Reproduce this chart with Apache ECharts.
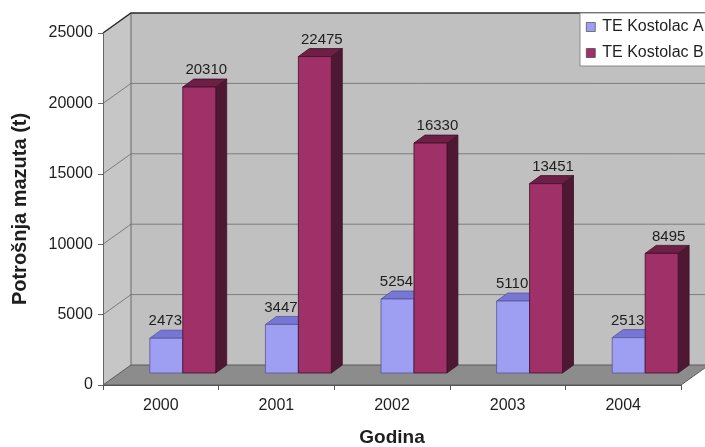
<!DOCTYPE html>
<html>
<head>
<meta charset="utf-8">
<script src="https://cdn.jsdelivr.net/npm/echarts@6/dist/echarts.min.js"></script>
<style>
  html, body { margin: 0; padding: 0; background: #ffffff; }
  #chart { width: 705px; height: 447px; }
</style>
</head>
<body>
<div id="chart"></div>
<script>
// Fuel oil consumption per year for the two Kostolac power plants
const years = ['2000', '2001', '2002', '2003', '2004'];
const kostolacA = [2473, 3447, 5254, 5110, 2513];
const kostolacB = [20310, 22475, 16330, 13451, 8495];
const yMax = 25000;
const yStep = 5000;

const FONT = "'Liberation Sans', Arial, sans-serif";

// Oblique projection: wall depth and bar depth offsets (px)
const WALL_DX = 28, WALL_DY = -20;
const FLOOR_DY = -12;
const BAR_DX = 11, BAR_DY = -8;
const BAR_W = 0.285;      // bar width as a fraction of the category band
const BAR_START = -0.095; // left edge of the first bar relative to band centre

function renderWalls(params, api) {
  const cs = params.coordSys;
  const left = cs.x, right = cs.x + cs.width;
  const top = cs.y, bottom = cs.y + cs.height;
  const children = [];
  // left side wall
  children.push({
    type: 'polygon',
    shape: { points: [[left, bottom], [left, top], [left + WALL_DX, top + WALL_DY], [left + WALL_DX, bottom + WALL_DY]] },
    style: { fill: '#c6c6c6' }
  });
  // back wall
  children.push({
    type: 'rect',
    shape: { x: left + WALL_DX, y: top + WALL_DY, width: cs.width, height: cs.height },
    style: { fill: '#c0c0c0' }
  });
  // gridlines on back and side walls
  for (let v = yStep; v < yMax; v += yStep) {
    const y = api.coord([0, v])[1];
    children.push({
      type: 'polyline',
      shape: { points: [[left, y], [left + WALL_DX, y + WALL_DY], [right + WALL_DX, y + WALL_DY]] },
      style: { stroke: '#7c7c7c', lineWidth: 1, fill: null }
    });
  }
  // back wall left edge
  children.push({
    type: 'line',
    shape: { x1: left + WALL_DX, y1: top + WALL_DY, x2: left + WALL_DX, y2: bottom + WALL_DY },
    style: { stroke: '#6a6a6a', lineWidth: 1 }
  });
  // top edge of the walls
  children.push({
    type: 'polyline',
    shape: { points: [[left, top], [left + WALL_DX, top + WALL_DY], [right + WALL_DX, top + WALL_DY]] },
    style: { stroke: '#2a2a2a', lineWidth: 1.5, fill: null }
  });
  // floor
  children.push({
    type: 'polygon',
    shape: { points: [[left, bottom], [right, bottom], [right + WALL_DX, bottom + WALL_DY], [left + WALL_DX, bottom + WALL_DY]] },
    style: { fill: '#8c8c8c', stroke: '#5a5a5a', lineWidth: 1 }
  });
  return { type: 'group', children: children };
}

function makeBarRenderer(slot, colors, labelShift) {
  return function (params, api) {
    const i = api.value(0);
    const v = api.value(1);
    const band = api.size([1, 0])[0];
    const base = api.coord([i, 0]);
    const topPt = api.coord([i, v]);
    const w = band * BAR_W;
    const x0 = base[0] + band * BAR_START + slot * w;
    const x1 = x0 + w;
    const yb = base[1] + FLOOR_DY;
    const yt = topPt[1] + FLOOR_DY;
    const edge = { stroke: colors.edge, lineWidth: 0.8 };
    return {
      type: 'group',
      children: [
        {
          type: 'polygon',
          shape: { points: [[x1, yb], [x1 + BAR_DX, yb + BAR_DY], [x1 + BAR_DX, yt + BAR_DY], [x1, yt]] },
          style: Object.assign({ fill: colors.side }, edge)
        },
        {
          type: 'polygon',
          shape: { points: [[x0, yt], [x0 + BAR_DX, yt + BAR_DY], [x1 + BAR_DX, yt + BAR_DY], [x1, yt]] },
          style: Object.assign({ fill: colors.top }, edge)
        },
        {
          type: 'rect',
          shape: { x: x0, y: yt, width: w, height: yb - yt },
          style: Object.assign({ fill: colors.front }, edge)
        },
        {
          type: 'text',
          style: {
            text: String(v),
            x: (x0 + x1) / 2 + labelShift,
            y: yt - 17,
            align: 'center',
            verticalAlign: 'middle',
            fill: '#1e1e1e',
            font: '15px ' + FONT
          }
        }
      ]
    };
  };
}

const colorsA = { front: '#9e9ef2', top: '#7676d4', side: '#5c5cae', edge: '#55559a' };
const colorsB = { front: '#a03068', top: '#6e1f46', side: '#4e1832', edge: '#3e1228' };

const chart = echarts.init(document.getElementById('chart'), null, { renderer: 'canvas' });

chart.setOption({
  animation: false,
  backgroundColor: '#ffffff',
  textStyle: { fontFamily: FONT },
  grid: { left: 103, top: 33, right: 24, bottom: 62, containLabel: false, outerBoundsMode: 'none' },
  legend: {
    orient: 'vertical',
    left: 580,
    top: 13,
    padding: [6, 4, 5, 6],
    itemGap: 10,
    itemWidth: 9,
    itemHeight: 9,
    icon: 'rect',
    backgroundColor: '#ffffff',
    borderColor: '#8a8a8a',
    borderWidth: 1,
    borderRadius: 0,
    itemStyle: { borderColor: '#333333', borderWidth: 0.6 },
    textStyle: { fontSize: 16, color: '#1e1e1e', fontFamily: FONT, padding: [0, 0, 0, 2] },
    data: ['TE Kostolac A', 'TE Kostolac B']
  },
  xAxis: {
    type: 'category',
    data: years,
    z: 10,
    name: 'Godina',
    nameLocation: 'middle',
    nameGap: 43,
    nameTextStyle: { fontSize: 19, fontWeight: 'bold', color: '#1e1e1e', fontFamily: FONT },
    axisLine: { show: true, lineStyle: { color: '#555555', width: 1 } },
    axisTick: { show: true, length: 5, alignWithLabel: false, lineStyle: { color: '#555555' } },
    axisLabel: { fontSize: 16, color: '#1e1e1e', margin: 13, fontFamily: FONT },
    splitLine: { show: false }
  },
  yAxis: {
    type: 'value',
    min: 0,
    max: yMax,
    interval: yStep,
    z: 10,
    name: 'Potrošnja mazuta (t)',
    nameLocation: 'middle',
    nameGap: 73,
    nameRotate: 90,
    nameTextStyle: { fontSize: 20, fontWeight: 'bold', color: '#1e1e1e', fontFamily: FONT },
    axisLine: { show: true, lineStyle: { color: '#666666', width: 1 } },
    axisTick: { show: true, length: 5, lineStyle: { color: '#666666' } },
    axisLabel: { fontSize: 16, color: '#1e1e1e', margin: 10, fontFamily: FONT, formatter: (v) => String(v) },
    splitLine: { show: false }
  },
  series: [
    {
      type: 'custom',
      name: 'walls',
      z: 1,
      silent: true,
      data: [[0, 0]],
      renderItem: renderWalls
    },
    {
      type: 'custom',
      name: 'TE Kostolac A',
      z: 3,
      itemStyle: { color: colorsA.front },
      data: kostolacA.map((v, i) => [i, v]),
      renderItem: makeBarRenderer(0, colorsA, -1)
    },
    {
      type: 'custom',
      name: 'TE Kostolac B',
      z: 4,
      itemStyle: { color: colorsB.front },
      data: kostolacB.map((v, i) => [i, v]),
      renderItem: makeBarRenderer(1, colorsB, 7)
    }
  ]
});
</script>
</body>
</html>
